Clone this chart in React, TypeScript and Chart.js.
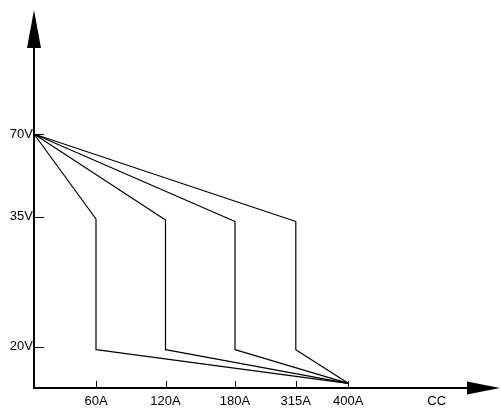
import { useEffect, useRef } from 'react';
import { Chart, registerables } from 'chart.js';

Chart.register(...registerables);

// Axis positions are in schematic plot units (the axis is not to scale)
const xTickValues = [62, 131.5, 201, 261.8, 314.3, 402.7];
const xTickLabels = ['60A', '120A', '180A', '315A', '400A', 'CC'];
const xTickMarked = [true, true, true, true, true, false];
const yTickValues = [41.3, 171.3, 254];
const yTickLabels = ['20V', '35V', '70V'];

// Four characteristic curves: start -> knee -> vertical drop -> converge
const startPoint = { x: 0, y: 254 };
const kneeX = [62, 131.5, 201, 261.8];
const kneeY = [169, 168, 166.5, 166.5];
const lowY = [38.3, 38.3, 38.3, 38.3];
const endPoint = { x: 314.3, y: 4.7 };

const X_MAX = 433;
const Y_MAX = 340;

const FONT = { family: "'Liberation Sans', Arial, sans-serif", size: 13 };

const axisDecor = {
  id: 'axisDecor',
  afterDraw(chart: any) {
    const { ctx, chartArea, scales } = chart;
    const xs = scales.x;
    const ys = scales.y;
    ctx.save();
    ctx.strokeStyle = '#000';
    ctx.fillStyle = '#000';
    ctx.lineWidth = 1;
    const by = chartArea.bottom;
    xTickValues.forEach((v, i) => {
      if (!xTickMarked[i]) return;
      const px = Math.round(xs.getPixelForValue(v)) + 0.5;
      ctx.beginPath();
      ctx.moveTo(px, by);
      ctx.lineTo(px, by - 7);
      ctx.stroke();
    });
    const lx = chartArea.left;
    yTickValues.forEach((v) => {
      const py = Math.round(ys.getPixelForValue(v)) + 0.5;
      ctx.beginPath();
      ctx.moveTo(lx, py);
      ctx.lineTo(lx + 10, py);
      ctx.stroke();
    });
    ctx.beginPath();
    ctx.moveTo(lx, chartArea.top - 38);
    ctx.lineTo(lx - 7, chartArea.top);
    ctx.lineTo(lx + 7, chartArea.top);
    ctx.closePath();
    ctx.fill();
    ctx.beginPath();
    ctx.moveTo(chartArea.right + 33, by);
    ctx.lineTo(chartArea.right, by - 6.5);
    ctx.lineTo(chartArea.right, by + 6.5);
    ctx.closePath();
    ctx.fill();
    ctx.restore();
  },
};

export default function App() {
  const ref = useRef<HTMLCanvasElement | null>(null);
  useEffect(() => {
    document.body.style.margin = '0';
    const canvas = ref.current;
    if (!canvas) return;
    const datasets = kneeX.map((kx, i) => ({
      label: 'curve' + (i + 1),
      data: [
        { x: startPoint.x, y: startPoint.y },
        { x: kx, y: kneeY[i] },
        { x: kx, y: lowY[i] },
        { x: endPoint.x, y: endPoint.y },
      ],
      showLine: true,
      borderColor: '#000',
      borderWidth: 1.2,
      borderJoinStyle: 'round' as const,
      pointRadius: 0,
      tension: 0,
      clip: false as any,
    }));
    const chart = new Chart(canvas, {
      type: 'scatter',
      data: { datasets },
      options: {
        animation: false,
        responsive: false,
        layout: { padding: { top: 48, right: 34, left: 0, bottom: 0 } },
        plugins: { legend: { display: false }, tooltip: { enabled: false } },
        scales: {
          x: {
            type: 'linear',
            min: 0,
            max: X_MAX,
            afterBuildTicks: (s: any) => {
              s.ticks = xTickValues.map((v) => ({ value: v }));
            },
            afterFit: (s: any) => {
              s.height = 22;
            },
            grid: { display: true, drawOnChartArea: false, drawTicks: false, color: 'rgba(0,0,0,0)' },
            border: { display: true, color: '#000', width: 2 },
            ticks: {
              autoSkip: false,
              maxRotation: 0,
              padding: 6,
              color: '#000',
              font: FONT,
              callback: (v: any) => {
                const i = xTickValues.indexOf(Number(v));
                return i >= 0 ? xTickLabels[i] : '';
              },
            },
          },
          y: {
            type: 'linear',
            min: 0,
            max: Y_MAX,
            afterBuildTicks: (s: any) => {
              s.ticks = yTickValues.map((v) => ({ value: v }));
            },
            afterFit: (s: any) => {
              s.width = 34;
            },
            grid: { display: true, drawOnChartArea: false, drawTicks: false, color: 'rgba(0,0,0,0)' },
            border: { display: true, color: '#000', width: 2 },
            ticks: {
              autoSkip: false,
              padding: 1,
              color: '#000',
              font: FONT,
              callback: (v: any) => {
                const i = yTickValues.indexOf(Number(v));
                return i >= 0 ? yTickLabels[i] : '';
              },
            },
          },
        },
      },
      plugins: [axisDecor],
    });
    return () => chart.destroy();
  }, []);
  return <canvas ref={ref} width={501} height={410} style={{ display: 'block' }} />;
}
